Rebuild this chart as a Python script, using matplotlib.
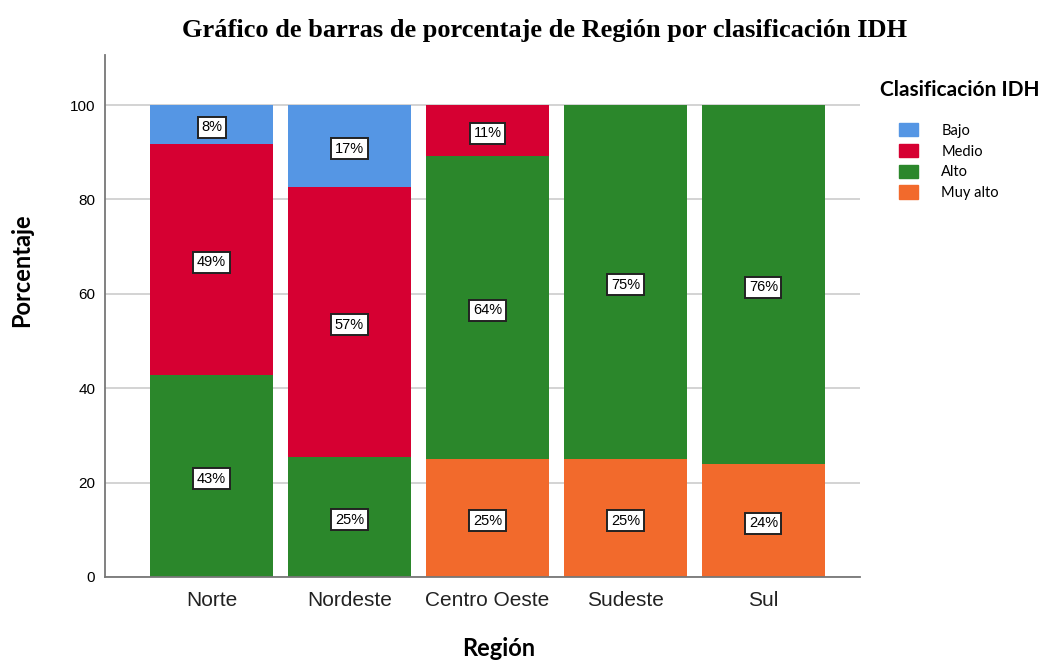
import numpy as np
import matplotlib.pyplot as plt
from matplotlib.patches import Patch

regions = ["Norte", "Nordeste", "Centro Oeste", "Sudeste", "Sul"]
classes = ["Bajo", "Medio", "Alto", "Muy alto"]
# percentages per class (stack order bottom->top: Muy alto, Alto, Medio, Bajo)
muy_alto = [0, 0, 25.0, 25.0, 23.9]
alto = [42.8, 25.4, 64.2, 75.0, 76.1]
medio = [48.9, 57.2, 10.8, 0, 0]
bajo = [8.3, 17.4, 0, 0, 0]

colors = {"Bajo": "#5596E4", "Medio": "#D60032", "Alto": "#2B872B", "Muy alto": "#F26A2C"}

W, H = 1046, 660
fig = plt.figure(figsize=(W / 100, H / 100), dpi=100)
ax = fig.add_axes([105 / W, 83 / H, 755 / W, 522 / H])

x = np.arange(len(regions))
stack = [("Muy alto", muy_alto), ("Alto", alto), ("Medio", medio), ("Bajo", bajo)]
bottom = np.zeros(len(regions))
for name, vals in stack:
    vals = np.array(vals)
    ax.bar(x, vals, width=0.89, bottom=bottom, color=colors[name], zorder=2)
    for xi, b, v in zip(x, bottom, vals):
        if v > 0:
            ax.annotate(f"{round(v):.0f}%", (xi, b + v / 2), xytext=(0, -2),
                        textcoords="offset points", ha="center", va="center",
                        fontsize=10.5, family="Liberation Sans", zorder=3,
                        bbox=dict(boxstyle="square,pad=0.24", fc="white", ec="#222222", lw=1.4))
    bottom += vals

ax.set_xlim(-0.772, 4.70)
ax.set_ylim(0, 110.6)
ax.set_yticks([0, 20, 40, 60, 80, 100])
ax.yaxis.grid(True, color="#CCCCCC", lw=1.2, zorder=0)
ax.set_axisbelow(True)
ax.set_xticks(x)
ax.set_xticklabels(regions, fontsize=15, family="Liberation Sans", color="#222222")
for lab in ax.get_yticklabels():
    lab.set_family("Liberation Sans")
    lab.set_fontsize(11)
ax.tick_params(axis="x", length=0, pad=10)
ax.tick_params(axis="y", length=0, pad=7)
for s in ["top", "right"]:
    ax.spines[s].set_visible(False)
for s in ["left", "bottom"]:
    ax.spines[s].set_color("#777777")
    ax.spines[s].set_linewidth(1.3)

fig.text(22 / W, 1 - 270 / H, "Porcentaje", rotation=90, ha="center", va="center",
         fontsize=17, fontweight="bold", family="Lato")
fig.text(499 / W, 1 - 648 / H, "Región", ha="center", va="center",
         fontsize=17, fontweight="bold", family="Lato")

fig.text(545 / W, 1 - 31 / H, "Gráfico de barras de porcentaje de Región por clasificación IDH",
         ha="center", va="center", fontsize=19, fontweight="bold", family="Liberation Serif")

fig.text(880 / W, 1 - 90 / H, "Clasificación IDH", ha="left", va="center",
         fontsize=15, fontweight="bold", family="Lato")
handles = [Patch(color=colors[c]) for c in classes]
leg = fig.legend(handles, classes, loc="upper left", bbox_to_anchor=(886 / W, 1 - 110 / H),
                 frameon=False, handlelength=1.3, handleheight=1.03,
                 handletextpad=1.6, labelspacing=0.42,
                 prop={"family": "Lato", "size": 10.5})

fig.savefig("out.png", dpi=100)
